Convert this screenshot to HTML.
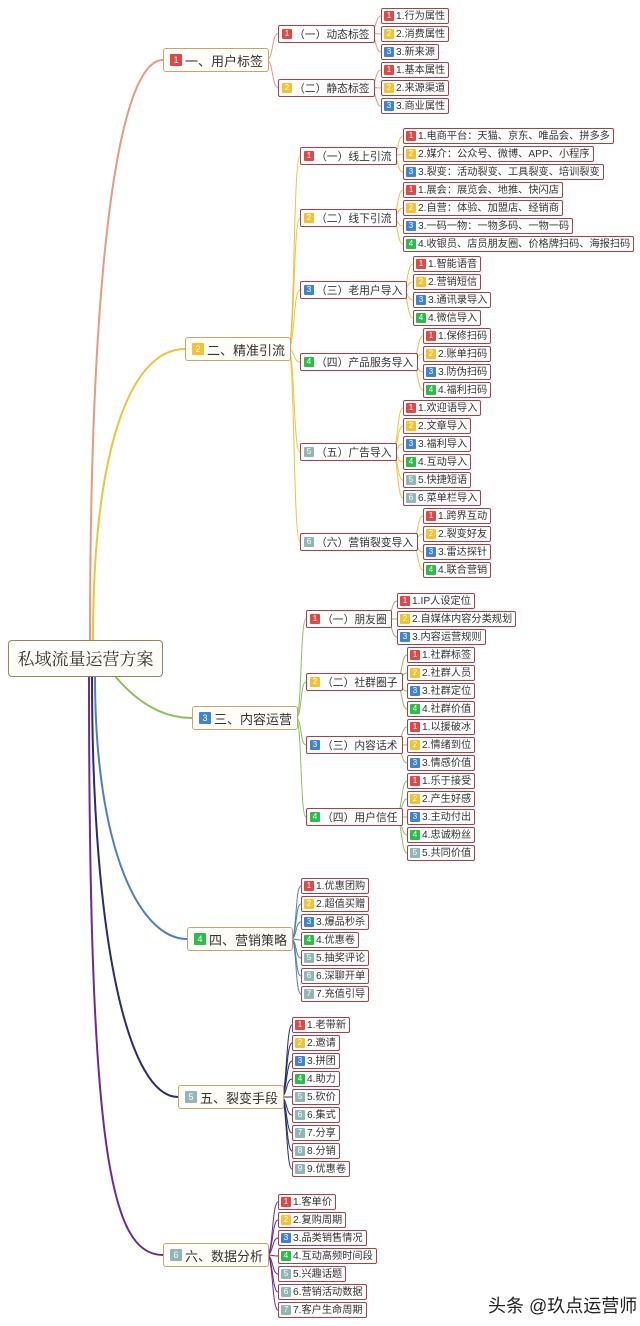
<!DOCTYPE html>
<html><head><meta charset="utf-8"><style>
*{box-sizing:border-box;margin:0;padding:0}
body{width:640px;height:1326px;background:#fff;position:relative;overflow:hidden;font-family:"Liberation Sans","Noto Sans CJK SC",sans-serif;color:#333}
.n,.m,.L,.R{position:absolute;white-space:nowrap;background:#fff;display:flex;align-items:center;line-height:1}
.n{height:16px;font-size:10.2px;border:1.5px solid #a8404a;border-radius:2px;padding:2px 3px 0 2px}
.m{height:18px;font-size:10.8px;border:1.5px solid #a8404a;border-radius:2px;padding:2px 4px 0 3px}
.L{height:24px;font-size:13px;border:1.5px solid #c9a46a;border-radius:3px;padding:2px 5px 0 6px;background:#fffdf8}
.R{left:8px;top:640px;width:155px;height:37px;justify-content:center;font-size:17px;border:1.5px solid #9a8060;border-radius:4px;font-family:"Liberation Serif","Noto Serif CJK SC",serif;background:#fffdf8;padding-top:2px}
.b{display:inline-block;flex:none;width:10px;height:10px;line-height:10px;font-size:8px;color:#fff;text-align:center;font-style:normal;margin-right:2px;border-radius:1px;position:relative;top:-1px}
.L .b{width:12px;height:12px;line-height:12px;font-size:9px;margin-right:3px}
.c1{background:#e04848}.c2{background:#f2c230}.c3{background:#3f83d6}.c4{background:#2bbd4a}.c5{background:#8fb7b5}
svg{position:absolute;left:0;top:0}
.wm{position:absolute;left:488px;top:1292px;font-size:18px;color:#222;font-family:"Liberation Sans","Noto Sans CJK SC",sans-serif}
</style></head><body>
<svg width="640" height="1326" fill="none">
<g stroke-width="2">
<path d="M90,640 C90,250 120,60 163,60" stroke="#e59a7f"/>
<path d="M93,640 C93,450 130,349 185,349" stroke="#f0c23a"/>
<path d="M115,676 C135,700 160,718 192,718" stroke="#8cbf5f"/>
<path d="M95,676 C95,850 140,939 187,939" stroke="#4d7fc0"/>
<path d="M92,676 C92,950 130,1097 178,1097" stroke="#2a2a70"/>
<path d="M89,676 C89,1150 110,1255 163,1255" stroke="#6b2c8f"/>
</g>
<g stroke="#e59a7f" stroke-width="1">
<path d="M267,60 C273,60 272,33.5 278,33.5"/><path d="M267,60 C273,60 272,87.5 278,87.5"/>
<path d="M370,33.5 C376,33.5 375,16 381,16"/><path d="M370,33.5 L381,34"/><path d="M370,33.5 C376,33.5 375,52 381,52"/>
<path d="M370,87.5 C376,87.5 375,70 381,70"/><path d="M370,87.5 L381,88"/><path d="M370,87.5 C376,87.5 375,106 381,106"/>
</g>
<g stroke="#f0c23a" stroke-width="1">
<path d="M288,349 C295,349 293,156 300,156"/><path d="M288,349 C295,349 293,218 300,218"/><path d="M288,349 C295,349 293,290 300,290"/><path d="M288,349 C295,349 293,362 300,362"/><path d="M288,349 C295,349 293,452 300,452"/><path d="M288,349 C295,349 293,542 300,542"/>
<path d="M393,156 C399,156 397,136 403,136"/><path d="M393,156 L403,154"/><path d="M393,156 C399,156 397,172 403,172"/>
<path d="M392,218 C398,218 397,190 403,190"/><path d="M392,218 C398,218 397,208 403,208"/><path d="M392,218 C398,218 397,226 403,226"/><path d="M392,218 C398,218 397,244 403,244"/>
<path d="M402,290 C408,290 407,264 413,264"/><path d="M402,290 C408,290 407,282 413,282"/><path d="M402,290 C408,290 407,300 413,300"/><path d="M402,290 C408,290 407,318 413,318"/>
<path d="M412,362 C418,362 417,336 423,336"/><path d="M412,362 C418,362 417,354 423,354"/><path d="M412,362 C418,362 417,372 423,372"/><path d="M412,362 C418,362 417,390 423,390"/>
<path d="M392,452 C398,452 397,408 403,408"/><path d="M392,452 C398,452 397,426 403,426"/><path d="M392,452 C398,452 397,444 403,444"/><path d="M392,452 C398,452 397,462 403,462"/><path d="M392,452 C398,452 397,480 403,480"/><path d="M392,452 C398,452 397,498 403,498"/>
<path d="M412,542 C418,542 417,516 423,516"/><path d="M412,542 C418,542 417,534 423,534"/><path d="M412,542 C418,542 417,552 423,552"/><path d="M412,542 C418,542 417,570 423,570"/>
</g>
<g stroke="#8cbf5f" stroke-width="1">
<path d="M296,718 C302,718 300,619 306,619"/><path d="M296,718 C302,718 300,682 306,682"/><path d="M296,718 C302,718 300,745 306,745"/><path d="M296,718 C302,718 300,817 306,817"/>
<path d="M386,619 C392,619 391,601 397,601"/><path d="M386,619 L397,619"/><path d="M386,619 C392,619 391,637 397,637"/>
<path d="M396,682 C402,682 401,655 407,655"/><path d="M396,682 C402,682 401,673 407,673"/><path d="M396,682 C402,682 401,691 407,691"/><path d="M396,682 C402,682 401,709 407,709"/>
<path d="M396,745 C402,745 401,727 407,727"/><path d="M396,745 L407,745"/><path d="M396,745 C402,745 401,763 407,763"/>
<path d="M396,817 C402,817 401,781 407,781"/><path d="M396,817 C402,817 401,799 407,799"/><path d="M396,817 L407,817"/><path d="M396,817 C402,817 401,835 407,835"/><path d="M396,817 C402,817 401,853 407,853"/>
</g>
<g stroke="#4d7fc0" stroke-width="1">
<path d="M291,939 C297,939 295,886 301,886"/><path d="M291,939 C297,939 295,904 301,904"/><path d="M291,939 C297,939 295,922 301,922"/><path d="M291,939 C297,939 295,940 301,940"/><path d="M291,939 C297,939 295,958 301,958"/><path d="M291,939 C297,939 295,976 301,976"/><path d="M291,939 C297,939 295,994 301,994"/>
</g>
<g stroke="#2a2a70" stroke-width="1">
<path d="M281,1097 C287,1097 286,1025 292,1025"/><path d="M281,1097 C287,1097 286,1043 292,1043"/><path d="M281,1097 C287,1097 286,1061 292,1061"/><path d="M281,1097 C287,1097 286,1079 292,1079"/><path d="M281,1097 C287,1097 286,1097 292,1097"/><path d="M281,1097 C287,1097 286,1115 292,1115"/><path d="M281,1097 C287,1097 286,1133 292,1133"/><path d="M281,1097 C287,1097 286,1151 292,1151"/><path d="M281,1097 C287,1097 286,1169 292,1169"/>
</g>
<g stroke="#6b2c8f" stroke-width="1">
<path d="M267,1255 C273,1255 272,1202 278,1202"/><path d="M267,1255 C273,1255 272,1220 278,1220"/><path d="M267,1255 C273,1255 272,1238 278,1238"/><path d="M267,1255 C273,1255 272,1256 278,1256"/><path d="M267,1255 C273,1255 272,1274 278,1274"/><path d="M267,1255 C273,1255 272,1292 278,1292"/><path d="M267,1255 C273,1255 272,1310 278,1310"/>
</g>
</svg>

<div class="R">私域流量运营方案</div>

<div class="L" style="left:163px;top:48px"><i class="b c1">1</i>一、用户标签</div>
<div class="L" style="left:185px;top:337px"><i class="b c2">2</i>二、精准引流</div>
<div class="L" style="left:192px;top:706px"><i class="b c3">3</i>三、内容运营</div>
<div class="L" style="left:187px;top:927px"><i class="b c4">4</i>四、营销策略</div>
<div class="L" style="left:178px;top:1085px"><i class="b c5">5</i>五、裂变手段</div>
<div class="L" style="left:163px;top:1243px"><i class="b c5">6</i>六、数据分析</div>

<div class="m" style="left:278px;top:25px"><i class="b c1">1</i>（一）动态标签</div>
<div class="m" style="left:278px;top:79px"><i class="b c2">2</i>（二）静态标签</div>
<div class="n" style="left:381px;top:8px"><i class="b c1">1</i>1.行为属性</div>
<div class="n" style="left:381px;top:26px"><i class="b c2">2</i>2.消费属性</div>
<div class="n" style="left:381px;top:44px"><i class="b c3">3</i>3.新来源</div>
<div class="n" style="left:381px;top:62px"><i class="b c1">1</i>1.基本属性</div>
<div class="n" style="left:381px;top:80px"><i class="b c2">2</i>2.来源渠道</div>
<div class="n" style="left:381px;top:98px"><i class="b c3">3</i>3.商业属性</div>

<div class="m" style="left:300px;top:147px"><i class="b c1">1</i>（一）线上引流</div>
<div class="n" style="left:403px;top:128px"><i class="b c1">1</i>1.电商平台：天猫、京东、唯品会、拼多多</div>
<div class="n" style="left:403px;top:146px"><i class="b c2">2</i>2.媒介：公众号、微博、APP、小程序</div>
<div class="n" style="left:403px;top:164px"><i class="b c3">3</i>3.裂变：活动裂变、工具裂变、培训裂变</div>
<div class="m" style="left:300px;top:209px"><i class="b c2">2</i>（二）线下引流</div>
<div class="n" style="left:403px;top:182px"><i class="b c1">1</i>1.展会：展览会、地推、快闪店</div>
<div class="n" style="left:403px;top:200px"><i class="b c2">2</i>2.自营：体验、加盟店、经销商</div>
<div class="n" style="left:403px;top:218px"><i class="b c3">3</i>3.一码一物：一物多码、一物一码</div>
<div class="n" style="left:403px;top:236px"><i class="b c4">4</i>4.收银员、店员朋友圈、价格牌扫码、海报扫码</div>
<div class="m" style="left:300px;top:281px"><i class="b c3">3</i>（三）老用户导入</div>
<div class="n" style="left:413px;top:256px"><i class="b c1">1</i>1.智能语音</div>
<div class="n" style="left:413px;top:274px"><i class="b c2">2</i>2.营销短信</div>
<div class="n" style="left:413px;top:292px"><i class="b c3">3</i>3.通讯录导入</div>
<div class="n" style="left:413px;top:310px"><i class="b c4">4</i>4.微信导入</div>
<div class="m" style="left:300px;top:353px"><i class="b c4">4</i>（四）产品服务导入</div>
<div class="n" style="left:423px;top:328px"><i class="b c1">1</i>1.保修扫码</div>
<div class="n" style="left:423px;top:346px"><i class="b c2">2</i>2.账单扫码</div>
<div class="n" style="left:423px;top:364px"><i class="b c3">3</i>3.防伪扫码</div>
<div class="n" style="left:423px;top:382px"><i class="b c4">4</i>4.福利扫码</div>
<div class="m" style="left:300px;top:443px"><i class="b c5">5</i>（五）广告导入</div>
<div class="n" style="left:403px;top:400px"><i class="b c1">1</i>1.欢迎语导入</div>
<div class="n" style="left:403px;top:418px"><i class="b c2">2</i>2.文章导入</div>
<div class="n" style="left:403px;top:436px"><i class="b c3">3</i>3.福利导入</div>
<div class="n" style="left:403px;top:454px"><i class="b c4">4</i>4.互动导入</div>
<div class="n" style="left:403px;top:472px"><i class="b c5">5</i>5.快捷短语</div>
<div class="n" style="left:403px;top:490px"><i class="b c5">6</i>6.菜单栏导入</div>
<div class="m" style="left:300px;top:533px"><i class="b c5">6</i>（六）营销裂变导入</div>
<div class="n" style="left:423px;top:508px"><i class="b c1">1</i>1.跨界互动</div>
<div class="n" style="left:423px;top:526px"><i class="b c2">2</i>2.裂变好友</div>
<div class="n" style="left:423px;top:544px"><i class="b c3">3</i>3.雷达探针</div>
<div class="n" style="left:423px;top:562px"><i class="b c4">4</i>4.联合营销</div>

<div class="m" style="left:306px;top:610px"><i class="b c1">1</i>（一）朋友圈</div>
<div class="n" style="left:397px;top:593px"><i class="b c1">1</i>1.IP人设定位</div>
<div class="n" style="left:397px;top:611px"><i class="b c2">2</i>2.自媒体内容分类规划</div>
<div class="n" style="left:397px;top:629px"><i class="b c3">3</i>3.内容运营规则</div>
<div class="m" style="left:306px;top:673px"><i class="b c2">2</i>（二）社群圈子</div>
<div class="n" style="left:407px;top:647px"><i class="b c1">1</i>1.社群标签</div>
<div class="n" style="left:407px;top:665px"><i class="b c2">2</i>2.社群人员</div>
<div class="n" style="left:407px;top:683px"><i class="b c3">3</i>3.社群定位</div>
<div class="n" style="left:407px;top:701px"><i class="b c4">4</i>4.社群价值</div>
<div class="m" style="left:306px;top:736px"><i class="b c3">3</i>（三）内容话术</div>
<div class="n" style="left:407px;top:719px"><i class="b c1">1</i>1.以援破冰</div>
<div class="n" style="left:407px;top:737px"><i class="b c2">2</i>2.情绪到位</div>
<div class="n" style="left:407px;top:755px"><i class="b c3">3</i>3.情感价值</div>
<div class="m" style="left:306px;top:808px"><i class="b c4">4</i>（四）用户信任</div>
<div class="n" style="left:407px;top:773px"><i class="b c1">1</i>1.乐于接受</div>
<div class="n" style="left:407px;top:791px"><i class="b c2">2</i>2.产生好感</div>
<div class="n" style="left:407px;top:809px"><i class="b c3">3</i>3.主动付出</div>
<div class="n" style="left:407px;top:827px"><i class="b c4">4</i>4.忠诚粉丝</div>
<div class="n" style="left:407px;top:845px"><i class="b c5">5</i>5.共同价值</div>

<div class="n" style="left:301px;top:878px"><i class="b c1">1</i>1.优惠团购</div>
<div class="n" style="left:301px;top:896px"><i class="b c2">2</i>2.超值买赠</div>
<div class="n" style="left:301px;top:914px"><i class="b c3">3</i>3.爆品秒杀</div>
<div class="n" style="left:301px;top:932px"><i class="b c4">4</i>4.优惠卷</div>
<div class="n" style="left:301px;top:950px"><i class="b c5">5</i>5.抽奖评论</div>
<div class="n" style="left:301px;top:968px"><i class="b c5">6</i>6.深聊开单</div>
<div class="n" style="left:301px;top:986px"><i class="b c5">7</i>7.充值引导</div>

<div class="n" style="left:292px;top:1017px"><i class="b c1">1</i>1.老带新</div>
<div class="n" style="left:292px;top:1035px"><i class="b c2">2</i>2.邀请</div>
<div class="n" style="left:292px;top:1053px"><i class="b c3">3</i>3.拼团</div>
<div class="n" style="left:292px;top:1071px"><i class="b c4">4</i>4.助力</div>
<div class="n" style="left:292px;top:1089px"><i class="b c5">5</i>5.砍价</div>
<div class="n" style="left:292px;top:1107px"><i class="b c5">6</i>6.集式</div>
<div class="n" style="left:292px;top:1125px"><i class="b c5">7</i>7.分享</div>
<div class="n" style="left:292px;top:1143px"><i class="b c5">8</i>8.分销</div>
<div class="n" style="left:292px;top:1161px"><i class="b c5">9</i>9.优惠卷</div>

<div class="n" style="left:278px;top:1194px"><i class="b c1">1</i>1.客单价</div>
<div class="n" style="left:278px;top:1212px"><i class="b c2">2</i>2.复购周期</div>
<div class="n" style="left:278px;top:1230px"><i class="b c3">3</i>3.品类销售情况</div>
<div class="n" style="left:278px;top:1248px"><i class="b c4">4</i>4.互动高频时间段</div>
<div class="n" style="left:278px;top:1266px"><i class="b c5">5</i>5.兴趣话题</div>
<div class="n" style="left:278px;top:1284px"><i class="b c5">6</i>6.营销活动数据</div>
<div class="n" style="left:278px;top:1302px"><i class="b c5">7</i>7.客户生命周期</div>

<div class="wm">头条 @玖点运营师</div>
</body></html>
